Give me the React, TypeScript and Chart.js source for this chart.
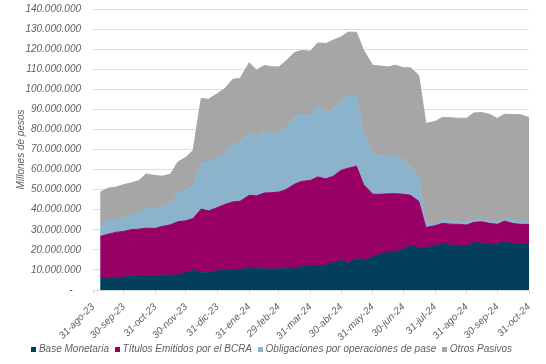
import React, { useEffect, useRef } from 'react';
import { Chart, registerables } from 'chart.js';

Chart.register(...registerables);

const baseDate = '2023-08-31';

const dates = [
  '2023-09-07', '2023-09-15', '2023-09-22', '2023-09-30',
  '2023-10-07', '2023-10-15', '2023-10-22', '2023-10-31',
  '2023-11-07', '2023-11-15', '2023-11-22', '2023-11-30',
  '2023-12-07', '2023-12-15', '2023-12-22', '2023-12-31',
  '2024-01-07', '2024-01-15', '2024-01-22', '2024-01-31',
  '2024-02-07', '2024-02-15', '2024-02-22', '2024-02-29',
  '2024-03-07', '2024-03-15', '2024-03-22', '2024-03-31',
  '2024-04-07', '2024-04-15', '2024-04-22', '2024-04-30',
  '2024-05-07', '2024-05-15', '2024-05-22', '2024-05-31',
  '2024-06-07', '2024-06-15', '2024-06-22', '2024-06-30',
  '2024-07-07', '2024-07-15', '2024-07-22', '2024-07-31',
  '2024-08-07', '2024-08-15', '2024-08-22', '2024-08-31',
  '2024-09-07', '2024-09-15', '2024-09-22', '2024-09-30',
  '2024-10-07', '2024-10-15', '2024-10-22', '2024-10-31',
];

const baseMonetaria = [
  6200000, 5900000, 5900000, 6400000,
  6900000, 7000000, 6700000, 6700000,
  7400000, 7400000, 7500000, 8600000,
  9900000, 8900000, 8900000, 9600000,
  9900000, 10200000, 10200000, 10900000,
  10600000, 10600000, 10400000, 10600000,
  10600000, 10700000, 11600000, 12400000,
  12000000, 12500000, 13400000, 14900000,
  13400000, 15800000, 14700000, 16500000,
  17800000, 18800000, 19100000, 20500000,
  22100000, 21100000, 21100000, 22100000,
  22900000, 22400000, 22100000, 22100000,
  23600000, 23300000, 22900000, 22800000,
  24100000, 23100000, 22900000, 22900000,
];

const titulosBCRA = [
  20500000, 21900000, 22800000, 22800000,
  23100000, 23300000, 24100000, 24000000,
  24300000, 25100000, 26500000, 25900000,
  25700000, 31400000, 30500000, 31500000,
  32700000, 33700000, 34000000, 36300000,
  36300000, 37700000, 38100000, 38200000,
  39400000, 41900000, 42500000, 42200000,
  44300000, 42900000, 43200000, 44700000,
  47300000, 45900000, 37800000, 31200000,
  29900000, 29100000, 28900000, 27200000,
  25100000, 23100000, 10100000, 9900000,
  10300000, 10400000, 10600000, 10300000,
  10100000, 10700000, 10300000, 9900000,
  10200000, 10100000, 9800000, 9800000,
];

const obligacionesPase = [
  5800000, 6700000, 5800000, 6500000,
  7000000, 8000000, 9900000, 9600000,
  10300000, 10300000, 14300000, 15300000,
  16500000, 23400000, 24000000, 25100000,
  25700000, 29400000, 29100000, 31300000,
  29500000, 30700000, 29700000, 29700000,
  31000000, 33400000, 33500000, 32500000,
  35000000, 33000000, 33800000, 34600000,
  36300000, 35000000, 25500000, 20100000,
  19600000, 18800000, 18800000, 17600000,
  14000000, 12100000, 1100000, 1100000,
  1300000, 1500000, 1300000, 1300000,
  1100000, 800000, 1100000, 1000000,
  1400000, 1600000, 1600000, 1300000,
];

const otrosPasivos = [
  16200000, 16300000, 16700000, 16800000,
  16300000, 16200000, 17100000, 16700000,
  14700000, 15000000, 15400000, 16300000,
  17400000, 31800000, 31600000, 31700000,
  32000000, 31700000, 32100000, 34700000,
  33200000, 32900000, 33000000, 32600000,
  33100000, 32200000, 31700000, 31900000,
  31800000, 34400000, 34000000, 31900000,
  31500000, 31700000, 41500000, 44100000,
  44300000, 44400000, 45200000, 45400000,
  49500000, 50600000, 50700000, 50900000,
  51500000, 51500000, 51600000, 51900000,
  53400000, 53600000, 53300000, 51800000,
  51900000, 52600000, 53100000, 52000000,
];

const tickDates = [
  '2023-08-31', '2023-09-30', '2023-10-31', '2023-11-30', '2023-12-31',
  '2024-01-31', '2024-02-29', '2024-03-31', '2024-04-30', '2024-05-31',
  '2024-06-30', '2024-07-31', '2024-08-31', '2024-09-30', '2024-10-31',
];

const tickLabels = [
  '31-ago-23', '30-sep-23', '31-oct-23', '30-nov-23', '31-dic-23',
  '31-ene-24', '29-feb-24', '31-mar-24', '30-abr-24', '31-may-24',
  '30-jun-24', '31-jul-24', '31-ago-24', '30-sep-24', '31-oct-24',
];

const seriesNames = [
  'Base Monetaria',
  'Títulos Emitidos por el BCRA',
  'Obligaciones por operaciones de pase',
  'Otros Pasivos',
];
const seriesColors = ['#013F5D', '#990066', '#8BB4CC', '#A6A6A6'];

const yMax = 140000000;
const yStep = 10000000;

const dayOf = (s: string) =>
  Math.round((Date.parse(s) - Date.parse(baseDate)) / 86400000);

const fmt = (v: number) =>
  Math.round(v).toString().replace(/\B(?=(\d{3})+(?!\d))/g, '.');

const FONT = 'Liberation Sans, Arial, Helvetica, sans-serif';
const TEXT = '#606060';

const centerLegend = {
  id: 'centerLegend',
  afterLayout(chart: any) {
    const lg = chart.legend;
    if (lg) {
      lg.left = 0;
      lg.right = chart.width;
    }
  },
};

function swatch(color: string) {
  const c = document.createElement('canvas');
  c.width = 5;
  c.height = 5;
  const g = c.getContext('2d');
  if (g) {
    g.fillStyle = color;
    g.fillRect(0, 0, 5, 5);
  }
  return c;
}

export default function App() {
  const ref = useRef<HTMLCanvasElement | null>(null);

  useEffect(() => {
    document.body.style.margin = '0';
    const canvas = ref.current;
    if (!canvas) return;
    const allSeries = [baseMonetaria, titulosBCRA, obligacionesPase, otrosPasivos];
    const xs = dates.map(dayOf);
    const tickDays = tickDates.map(dayOf);
    const labelByDay: Record<number, string> = {};
    tickDays.forEach((d, i) => (labelByDay[d] = tickLabels[i]));
    const swatches = seriesColors.map(swatch);

    const chart = new Chart(canvas, {
      type: 'line',
      plugins: [centerLegend],
      data: {
        datasets: allSeries.map((arr, i) => ({
          label: seriesNames[i],
          data: arr.map((v, j) => ({ x: xs[j], y: v })),
          backgroundColor: seriesColors[i],
          borderColor: seriesColors[i],
          borderWidth: 1,
          pointRadius: 0,
          pointHoverRadius: 0,
          tension: 0,
          fill: i === 0 ? 'origin' : '-1',
        })),
      },
      options: {
        animation: false,
        responsive: false,
        devicePixelRatio: 1,
        layout: { padding: { left: 8, right: 17, top: 9, bottom: 0 } },
        plugins: {
          tooltip: { enabled: false },
          legend: {
            position: 'bottom',
            labels: {
              usePointStyle: true,
              pointStyleWidth: 0.01,
              boxHeight: 5,
              padding: 3,
              color: TEXT,
              font: { family: FONT, size: 10, style: 'italic' },
              generateLabels: (ch: any) => {
                const items = Chart.defaults.plugins.legend.labels.generateLabels(ch);
                return items.map((it: any, i: number) => ({
                  ...it,
                  pointStyle: swatches[i],
                  text: i < items.length - 1 ? it.text + '  ' : it.text,
                }));
              },
            },
          },
        },
        scales: {
          x: {
            type: 'linear',
            min: tickDays[0],
            max: tickDays[tickDays.length - 1],
            afterBuildTicks: (axis: any) => {
              axis.ticks = tickDays.map((v) => ({ value: v }));
            },
            afterFit: (axis: any) => {
              axis.height = 51;
            },
            ticks: {
              autoSkip: false,
              minRotation: 45,
              maxRotation: 45,
              padding: 7,
              color: TEXT,
              font: { family: FONT, size: 10, style: 'italic' },
              callback: (v: any) => labelByDay[v] ?? '',
            },
            grid: {
              drawOnChartArea: false,
              drawTicks: true,
              tickLength: 4,
              color: '#D9D9D9',
            },
            border: { display: true, color: '#D9D9D9' },
          },
          y: {
            stacked: true,
            min: 0,
            max: yMax,
            afterFit: (axis: any) => {
              axis.width = 85;
            },
            ticks: {
              stepSize: yStep,
              padding: 3,
              color: TEXT,
              font: { family: FONT, size: 10, style: 'italic' },
              callback: (v: any) => (Number(v) === 0 ? '-   ' : fmt(Number(v))),
            },
            grid: {
              color: '#DEDEDE',
              drawTicks: true,
              tickLength: 9,
              tickColor: 'rgba(0,0,0,0)',
            },
            border: { display: false },
            title: {
              display: true,
              text: 'Millones de pesos',
              color: TEXT,
              padding: { top: 7, bottom: 0 },
              font: { family: FONT, size: 10, style: 'italic' },
            },
          },
        },
      },
    });
    return () => chart.destroy();
  }, []);

  return (
    <div style={{ position: 'fixed', left: 0, top: 0, width: 546, height: 364, background: '#fff' }}>
      <canvas ref={ref} width={546} height={364} style={{ display: 'block' }} />
    </div>
  );
}
